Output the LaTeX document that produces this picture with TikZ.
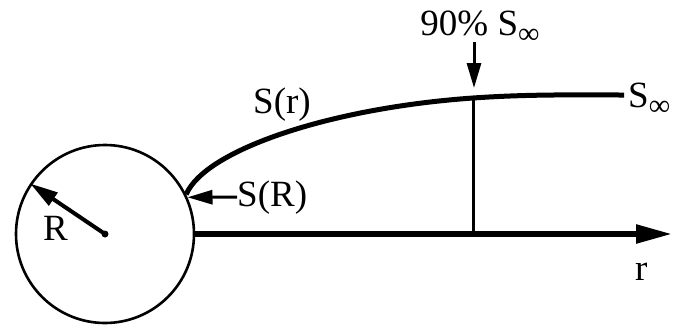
\documentclass[tikz,border=0pt]{standalone}
\usepackage{fontspec}
\setmainfont{Liberation Serif}
\usetikzlibrary{arrows.meta}
\newcommand{\Sinf}{S\raisebox{-0.22em}{\fontsize{30}{30}\selectfont ∞}}

\begin{document}
\begin{tikzpicture}[x=1pt,y=-1pt,
    lbl/.style={inner sep=0pt,font=\fontsize{37}{40}\selectfont},
    pointer/.style={line width=3pt,-{Triangle[length=25pt,width=14pt]}}]
    \useasboundingbox (0,0) rectangle (683,325);

    % Sphere of radius R
    \node[draw,circle,line width=2.6pt,minimum size=178pt,inner sep=0pt] (ball) at (105,234) {};
    \fill (ball.center) circle (3.5pt);
    \draw[line width=4pt,-{Triangle[length=28pt,width=15pt]}] (ball.center) -- (ball.146);
    \node[lbl,anchor=base west] (rlab) at (43,240) {R};

    % r axis
    \coordinate (rend) at (672,234);
    \draw[line width=5.5pt,-{Triangle[length=36pt,width=18pt]}] (ball.east) -- (rend);
    \node[lbl,anchor=base west] (raxis) at (635,280) {r};

    % S(r) profile
    \coordinate (p90) at (473,98);
    \coordinate (pend) at (624,95);
    \draw[line width=5pt] (ball.26) .. controls (205,150) and (330,108) .. (p90)
        .. controls (530,94) and (580,95) .. (pend);
    \node[lbl,anchor=base west] (srlab) at (253,113) {S(r)};
    \node[lbl,anchor=base west] (sinf) at (628,107) {\Sinf};

    % S(R) at the surface
    \node[lbl,anchor=base west] (sRlab) at (237,206) {S(R)};
    \draw[pointer] (sRlab.west) -- (ball.24);

    % 90% marker
    \draw[line width=3pt] (p90) -- (p90 |- rend);
    \node[lbl,anchor=base] (lab90) at (480,35) {90\% \Sinf};
    \coordinate (top90) at (474,42);
    \draw[pointer,shorten >=10pt] (top90) -- (top90 |- p90);
\end{tikzpicture}
\end{document}
